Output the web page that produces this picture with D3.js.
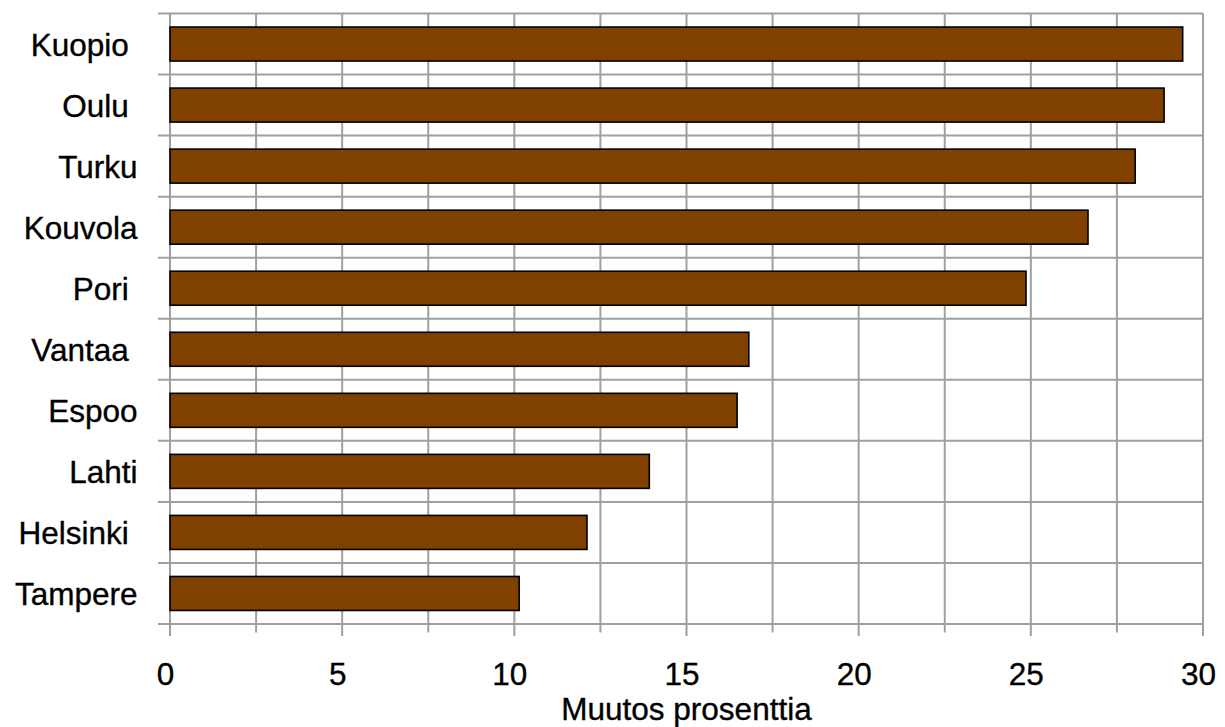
<!DOCTYPE html>
<html>
<head>
<meta charset="utf-8">
<script src="https://cdn.jsdelivr.net/npm/d3@7/dist/d3.min.js"></script>
<style>
  html, body { margin: 0; padding: 0; background: #fff; }
  svg text { font-family: "Liberation Sans", Arial, sans-serif; fill: #000; white-space: pre; stroke: #000; stroke-width: 0.35px; }
</style>
</head>
<body>
<svg id="chart" width="1225" height="727"></svg>
<script>
const categories = ["Kuopio ", "Oulu ", "Turku", "Kouvola", "Pori ", "Vantaa ", "Espoo", "Lahti", "Helsinki ", "Tampere"];
const values = [29.41, 28.87, 28.03, 26.66, 24.86, 16.81, 16.47, 13.92, 12.11, 10.14];
const majorTicks = [0, 5, 10, 15, 20, 25, 30];
const gridTicks = [0, 2.5, 5, 7.5, 10, 12.5, 15, 17.5, 20, 22.5, 25, 27.5, 30];
const axisTitle = "Muutos prosenttia";

const svg = d3.select("#chart");
const plotLeft = 170, plotRight = 1203, plotTop = 13.5, plotBottom = 624;
const gridColor = "#a0a0a0";
const fontSize = 31.5;

const x = d3.scaleLinear().domain([0, 30]).range([plotLeft, plotRight]);
const y = d3.scaleBand().domain(categories).range([plotTop, plotBottom])
  .paddingInner(0.443).paddingOuter(0.2215);
const step = y.step();

// horizontal gridlines at category boundaries (with left tick marks)
const hLines = d3.range(categories.length + 1).map(i => plotTop + i * step);
svg.append("g").selectAll("line").data(hLines).join("line")
  .attr("x1", 158).attr("x2", plotRight)
  .attr("y1", d => d).attr("y2", d => d)
  .attr("stroke", gridColor).attr("stroke-width", 2);

// vertical gridlines
svg.append("g").selectAll("line").data(gridTicks).join("line")
  .attr("x1", d => x(d)).attr("x2", d => x(d))
  .attr("y1", plotTop)
  .attr("y2", d => majorTicks.includes(d) ? 636 : 632.5)
  .attr("stroke", gridColor).attr("stroke-width", 2);

// bars
svg.append("g").selectAll("rect").data(categories).join("rect")
  .attr("x", x(0))
  .attr("y", d => y(d))
  .attr("width", (d, i) => x(values[i]) - x(0))
  .attr("height", y.bandwidth())
  .attr("fill", "#804000")
  .attr("stroke", "#000").attr("stroke-width", 1.6);

// category labels
svg.append("g").selectAll("text").data(categories).join("text")
  .attr("x", 137.5)
  .attr("y", d => y(d) + y.bandwidth() / 2 + 11.5)
  .attr("text-anchor", "end")
  .attr("font-size", fontSize)
  .text(d => d);

// tick labels
svg.append("g").selectAll("text").data(majorTicks).join("text")
  .attr("x", d => x(d) - 4.5)
  .attr("y", 684.5)
  .attr("text-anchor", "middle")
  .attr("font-size", fontSize)
  .text(d => d);

// axis title
svg.append("text")
  .attr("x", (plotLeft + plotRight) / 2)
  .attr("y", 719.5)
  .attr("text-anchor", "middle")
  .attr("font-size", fontSize)
  .text(axisTitle);
</script>
</body>
</html>
